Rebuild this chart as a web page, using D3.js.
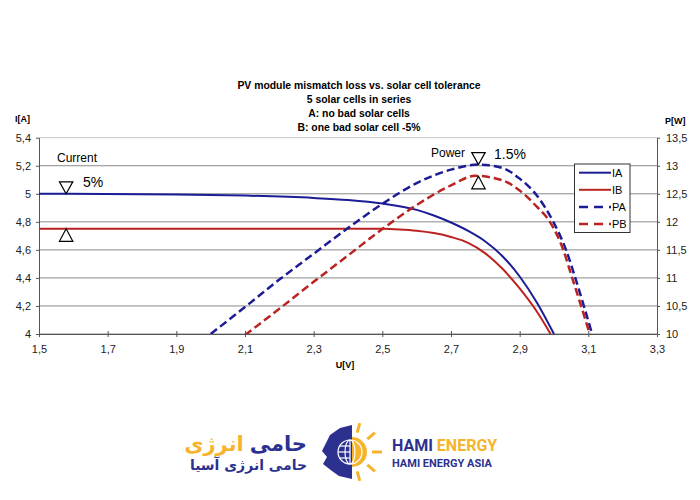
<!DOCTYPE html>
<html lang="en">
<head>
    <meta charset="UTF-8">
    <title>PV module mismatch loss</title>
    <script src="https://d3js.org/d3.v7.min.js"></script>
    <style>
        body {
            margin: 0;
            background: #fff;
            font-family: "Liberation Sans", Arial, sans-serif;
        }
        .grid line {
            stroke: #8a8a8a;
            stroke-width: 1;
        }
        .axis path, .axis line {
            stroke: #555;
        }
        .axis text {
            font-size: 11px;
            fill: #222;
        }
        .title {
            font-size: 10.4px;
            font-weight: bold;
        }
        .axis-title {
            font-size: 9px;
            font-weight: bold;
        }
    </style>
</head>
<body>
<svg id="chart" width="700" height="500"></svg>

<script>
    // values
    const titleLines = ["PV module mismatch loss vs. solar cell tolerance", "5 solar cells in series",
        "A: no bad solar cells", "B: one bad solar cell -5%"];

    const xTicks = [1.5, 1.7, 1.9, 2.1, 2.3, 2.5, 2.7, 2.9, 3.1, 3.3];
    const iTicks = [4, 4.2, 4.4, 4.6, 4.8, 5, 5.2, 5.4];
    const pTicks = [10, 10.5, 11, 11.5, 12, 12.5, 13, 13.5];

    const iaU = [1.5, 1.9, 2.1, 2.3, 2.4, 2.5, 2.6, 2.65, 2.7, 2.75, 2.8, 2.85, 2.9, 2.95, 3.0];
    const iaI = [5.0, 4.995, 4.987, 4.97, 4.955, 4.93, 4.885, 4.845, 4.795, 4.735, 4.66, 4.555, 4.41, 4.225, 4.0];

    const ibU = [1.5, 2.5, 2.55, 2.6, 2.65, 2.7, 2.75, 2.8, 2.85, 2.9, 2.95, 2.99];
    const ibI = [4.75, 4.75, 4.746, 4.737, 4.72, 4.692, 4.65, 4.575, 4.465, 4.325, 4.16, 4.0];

    const paU = [2.0, 2.1, 2.2, 2.3, 2.4, 2.5, 2.6, 2.7, 2.78, 2.85, 2.9, 2.95, 2.998, 3.035, 3.062, 3.087, 3.111];
    const paP = [10.0, 10.48, 10.97, 11.43, 11.89, 12.32, 12.69, 12.93, 13.02, 12.96, 12.77, 12.47, 12.0, 11.5, 11.0, 10.5, 10.0];

    const pbU = [2.1, 2.2, 2.3, 2.4, 2.5, 2.6, 2.7, 2.77, 2.85, 2.9, 2.95, 2.988, 3.027, 3.053, 3.079, 3.104];
    const pbP = [9.98, 10.45, 10.93, 11.40, 11.87, 12.30, 12.65, 12.82, 12.74, 12.56, 12.27, 12.0, 11.5, 11.0, 10.5, 10.0];

    const legendNames = ["IA", "IB", "PA", "PB"];

    const blue = "#1c1c96";
    const red = "#bb2222";

    const plot = { left: 39, right: 657, top: 137.7, bottom: 334 };

    const svg = d3.select("#chart");

    const x = d3.scaleLinear().domain([1.5, 3.3]).range([plot.left, plot.right]);
    const yI = d3.scaleLinear().domain([4, 5.4]).range([plot.bottom, plot.top]);
    const yP = d3.scaleLinear().domain([10, 13.5]).range([plot.bottom, plot.top]);

    const comma = d => String(d).replace(".", ",");

    // title
    svg.selectAll(".title")
        .data(titleLines)
        .enter()
        .append("text")
        .attr("class", "title")
        .attr("x", 359)
        .attr("y", (_, i) => 89 + i * 14)
        .attr("text-anchor", "middle")
        .text(d => d);

    // gridlines
    svg.append("g")
        .attr("class", "grid")
        .selectAll("line")
        .data(iTicks)
        .enter()
        .append("line")
        .attr("x1", plot.left)
        .attr("x2", plot.right)
        .attr("y1", d => yI(d))
        .attr("y2", d => yI(d))
        .style("stroke", d => d === 5.4 ? "#c4c4c4" : null);

    // clip
    svg.append("defs").append("clipPath")
        .attr("id", "plot-clip")
        .append("rect")
        .attr("x", plot.left)
        .attr("y", plot.top)
        .attr("width", plot.right - plot.left)
        .attr("height", plot.bottom - plot.top);

    // axes
    svg.append("g")
        .attr("class", "axis")
        .attr("transform", `translate(0,${plot.bottom})`)
        .call(d3.axisBottom(x).tickValues(xTicks).tickFormat(comma).tickSize(3).tickSizeOuter(0).tickPadding(8))
        .call(g => g.selectAll(".tick line").attr("y1", -3));

    svg.append("g")
        .attr("class", "axis")
        .attr("transform", `translate(${plot.left},0)`)
        .call(d3.axisLeft(yI).tickValues(iTicks).tickFormat(comma).tickSize(3).tickSizeOuter(0).tickPadding(5));

    svg.append("g")
        .attr("class", "axis")
        .attr("transform", `translate(${plot.right},0)`)
        .call(d3.axisRight(yP).tickValues(pTicks).tickFormat(comma).tickSize(3).tickSizeOuter(0).tickPadding(6));

    svg.append("text").attr("class", "axis-title").attr("x", 15).attr("y", 122).text("I[A]");
    svg.append("text").attr("class", "axis-title").attr("x", 665).attr("y", 124).text("P[W]");
    svg.append("text").attr("class", "axis-title").attr("x", 345).attr("y", 368).attr("text-anchor", "middle").text("U[V]");

    // curves
    const series = [
        { u: iaU, v: iaI, y: yI, color: blue, dash: null },
        { u: ibU, v: ibI, y: yI, color: red, dash: null },
        { u: paU, v: paP, y: yP, color: blue, dash: "8,4" },
        { u: pbU, v: pbP, y: yP, color: red, dash: "8,4" }
    ];

    const curves = svg.append("g").attr("clip-path", "url(#plot-clip)");
    series.forEach(s => {
        const line = d3.line()
            .x(d => x(d[0]))
            .y(d => s.y(d[1]))
            .curve(d3.curveMonotoneX);
        curves.append("path")
            .datum(s.u.map((u, i) => [u, s.v[i]]))
            .attr("fill", "none")
            .attr("stroke", s.color)
            .attr("stroke-width", s.dash ? 2.5 : 2)
            .attr("stroke-dasharray", s.dash)
            .attr("d", line);
    });

    // annotations
    function triangle(cx, tipY, down) {
        const w = 6.7, h = down ? -12 : 12.5;
        svg.append("path")
            .attr("d", `M${cx},${tipY} L${cx - w},${tipY + h} L${cx + w},${tipY + h} Z`)
            .attr("fill", "#fff")
            .attr("stroke", "#000")
            .attr("stroke-width", 1.2);
    }
    triangle(x(1.579), yI(5.0), true);
    triangle(x(1.579), yI(4.75), false);
    triangle(x(2.78), yP(13.02), true);
    triangle(x(2.78), yP(12.82) + 0.5, false);

    svg.append("text").attr("x", 57).attr("y", 162).style("font-size", "12px").text("Current");
    svg.append("text").attr("x", 83).attr("y", 187).style("font-size", "14px").text("5%");
    svg.append("text").attr("x", 431).attr("y", 157).style("font-size", "12px").text("Power");
    svg.append("text").attr("x", 494).attr("y", 159).style("font-size", "14px").text("1.5%");

    // legend
    const legend = svg.append("g");
    legend.append("rect")
        .attr("x", 574.5).attr("y", 164)
        .attr("width", 55.5).attr("height", 68.5)
        .attr("fill", "#fff")
        .attr("stroke", "#333")
        .attr("stroke-width", 1);
    legendNames.forEach((name, i) => {
        const s = series[i];
        const ly = 172.7 + i * 17.1;
        legend.append("line")
            .attr("x1", 579).attr("x2", 611)
            .attr("y1", ly).attr("y2", ly)
            .attr("stroke", s.color)
            .attr("stroke-width", s.dash ? 2.5 : 2)
            .attr("stroke-dasharray", s.dash ? "9,6" : null);
        legend.append("text")
            .attr("x", 612).attr("y", ly + 4)
            .style("font-size", "11px")
            .text(name);
    });

    // logo
    const navy = "#2c3190";
    const gold = "#f6b42c";
    const logo = svg.append("g");

    const faFont = "'DejaVu Sans', 'Noto Sans', sans-serif";
    const hami = logo.append("text")
        .attr("x", 307).attr("y", 451)
        .attr("text-anchor", "end")
        .attr("fill", navy)
        .style("font-family", faFont)
        .style("font-size", "21px")
        .style("font-weight", "bold")
        .text("حامی");
    const hamiW = hami.node().getComputedTextLength();
    logo.append("text")
        .attr("x", 307 - hamiW - 6).attr("y", 451)
        .attr("text-anchor", "end")
        .attr("fill", gold)
        .style("font-family", faFont)
        .style("font-size", "21px")
        .style("font-weight", "bold")
        .text("انرژی");

    logo.append("text")
        .attr("x", 307).attr("y", 470)
        .attr("text-anchor", "end")
        .attr("fill", navy)
        .style("font-family", faFont)
        .style("font-size", "14px")
        .style("font-weight", "bold")
        .text("حامی انرژی آسیا");

    // icon
    const icx = 352, icy = 452;
    logo.append("path")
        .attr("d", `M${icx},${icy - 27} L${icx - 12},${icy - 24} L${icx - 22},${icy - 17} L${icx - 26},${icy - 9}
            L${icx - 30},${icy - 1} L${icx - 25},${icy + 5} L${icx - 29},${icy + 12} L${icx - 20},${icy + 19}
            L${icx - 13},${icy + 24} L${icx},${icy + 27} Z`)
        .attr("fill", navy);
    logo.append("path")
        .attr("d", d3.arc()({ innerRadius: 0, outerRadius: 15, startAngle: 0, endAngle: Math.PI }))
        .attr("transform", `translate(${icx},${icy})`)
        .attr("fill", gold);
    const globe = logo.append("g").attr("transform", `translate(${icx - 2},${icy})`)
        .attr("fill", "none").attr("stroke", "#fff").attr("stroke-width", 1.2);
    globe.append("circle").attr("r", 12);
    globe.append("ellipse").attr("rx", 5).attr("ry", 12);
    [-6, 0, 6].forEach(dy => {
        const hw = Math.sqrt(144 - dy * dy);
        globe.append("line").attr("x1", -hw).attr("x2", 0).attr("y1", dy).attr("y2", dy);
    });
    globe.append("line").attr("x1", 0).attr("x2", 0).attr("y1", -12).attr("y2", 12);
    [-75, -40, 0, 40, 75].forEach(a => {
        const r = a * Math.PI / 180;
        logo.append("line")
            .attr("x1", icx + Math.cos(r) * 20).attr("y1", icy + Math.sin(r) * 20)
            .attr("x2", icx + Math.cos(r) * 30).attr("y2", icy + Math.sin(r) * 30)
            .attr("stroke", gold).attr("stroke-width", 3);
    });

    const en = logo.append("text")
        .attr("x", 392).attr("y", 451)
        .style("font-family", "Roboto")
        .style("font-size", "16px")
        .style("font-weight", "bold");
    en.append("tspan").attr("fill", navy).text("HAMI ");
    en.append("tspan").attr("fill", gold).text("ENERGY");

    logo.append("text")
        .attr("x", 392).attr("y", 467)
        .attr("fill", navy)
        .style("font-family", "Roboto")
        .style("font-size", "11px")
        .style("font-weight", "bold")
        .text("HAMI ENERGY ASIA");
</script>
</body>
</html>
